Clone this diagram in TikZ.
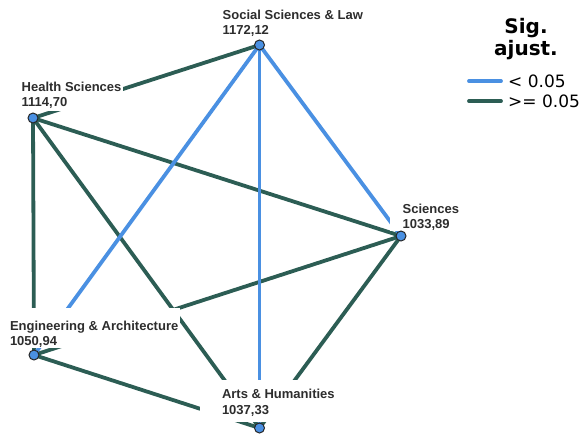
\documentclass[tikz,border=0pt]{standalone}
\usepackage{fontspec}
\setmainfont{Liberation Sans}
\newfontfamily\legendfont{DejaVu Sans}
\definecolor{sigblue}{RGB}{74,144,226}
\definecolor{nsgreen}{RGB}{44,93,84}
\definecolor{labgray}{RGB}{45,45,45}

\begin{document}
\begin{tikzpicture}[x=1pt, y=-1pt,
  sig/.style={sigblue, line width=3.8pt},
  nonsig/.style={nsgreen, line width=3.8pt},
  vert/.style={circle, draw=black!85, line width=1pt, fill=sigblue, inner sep=0pt, minimum size=10pt},
  lab/.style={anchor=north west, fill=white, text=labgray, align=left, inner xsep=2pt, inner ysep=0pt, outer sep=0pt, font=\bfseries\fontsize{13}{15.5}\selectfont}]
\useasboundingbox (0,0) rectangle (583,434);

\coordinate (soc) at (259.5,45);
\coordinate (hea) at (33,118);
\coordinate (sci) at (401,236);
\coordinate (eng) at (34,355);
\coordinate (art) at (259.5,428);

\foreach \a/\b in {hea/soc, hea/sci, hea/eng, hea/art, sci/eng, sci/art, eng/art}
 \draw[nonsig] (\a) -- (\b);
\foreach \a/\b in {soc/eng, soc/art, soc/sci}
 \draw[sig] (\a) -- (\b);

\node[lab] (soc-lab) at (220.7,7) {\rule{0pt}{12pt}Social Sciences \& Law\\1172,12};
\node[lab] (hea-lab) at (19.7,79) {\rule{0pt}{12pt}Health Sciences\\1114,70\rule[-4.5pt]{0pt}{4.5pt}};
\node[lab] (eng-lab) at (8,308) {\rule{0pt}{22pt}Engineering \& Architecture\\1050,94};
\node[lab, inner xsep=22pt] (art-lab) at (200,380) {\rule{0pt}{18.5pt}Arts \& Humanities\\1037,33\rule[-8pt]{0pt}{8pt}};
\node[lab, inner xsep=12.7pt] (sci-lab) at (390,200) {\rule{0pt}{13.3pt}Sciences\\1033,89};

\foreach \v in {soc, hea, sci, eng, art}
 \node[vert] (\v-dot) at (\v) {};

\node[font=\legendfont\bfseries\fontsize{20}{22}\selectfont, align=center, inner sep=0pt, anchor=north] (leg-title) at (526,17.8) {Sig.\\ajust.};
\node[font=\legendfont\fontsize{17}{20}\selectfont, inner sep=0pt, anchor=base west] (leg-sig) at (508,87.3) {< 0.05};
\node[font=\legendfont\fontsize{17}{20}\selectfont, inner sep=0pt, anchor=base west] (leg-ns) at (508,107.3) {>= 0.05};
\draw[sig, line cap=round] ([xshift=-39pt]leg-sig.west) -- ([xshift=-7pt]leg-sig.west);
\draw[nonsig, line cap=round] ([xshift=-39pt]leg-ns.west) -- ([xshift=-7pt]leg-ns.west);

\end{tikzpicture}
\end{document}
